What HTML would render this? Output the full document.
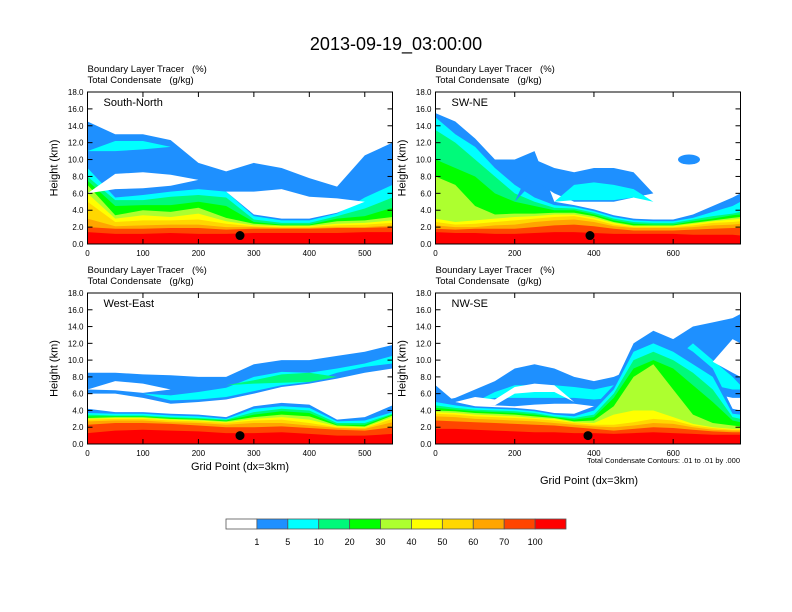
<!DOCTYPE html>
<html><head><meta charset="utf-8"><style>
body{margin:0;background:#fff;}
svg{display:block;font-family:"Liberation Sans",sans-serif;}
</style></head><body>
<svg id="fig" width="792" height="612" viewBox="0 0 792 612" xmlns="http://www.w3.org/2000/svg">
<rect width="792" height="612" fill="#fff"/>
<text x="396" y="50" font-size="18" text-anchor="middle">2013-09-19_03:00:00</text>
</svg>
<script>
const colors=["#ffffff","#1e90ff","#00ffff","#00fa7a","#00ff00","#adff2f","#ffff00","#ffd700","#ffa500","#ff4500","#ff0000"];
const colorLabels=["1","5","10","20","30","40","50","60","70","100"];
const yTicks=[0,2,4,6,8,10,12,14,16,18];

// ---- Panel: South-North
const snX=[0,50,100,150,200,250,300,350,400,450,500,550];
const snStack=[
 [14.5,13,13,12.3,9.6,8.6,9.6,9,7.8,6.8,10.5,12],
 [9,5.5,5.8,6.2,6.5,6.2,3.3,2.8,2.8,3.6,5.5,7],
 [8,5.2,5.2,5.6,5.8,5.5,2.9,2.5,2.5,3.3,4.2,5.5],
 [7.5,4.5,4.6,4.6,5.0,4.5,2.6,2.3,2.3,3.0,3.3,4.3],
 [7,3.4,4.0,3.8,4.3,3.1,2.4,2.2,2.2,2.7,2.8,3.2],
 [6,3.0,3.4,3.2,3.6,2.7,2.2,2.1,2.1,2.4,2.5,2.8],
 [5,2.6,2.8,2.8,2.9,2.4,2.1,2.0,2.0,2.2,2.3,2.5],
 [3,2.1,2.2,2.3,2.3,2.0,2.0,1.9,1.9,2.0,2.0,2.2],
 [2.0,1.8,1.8,1.9,1.9,1.7,1.8,1.8,1.8,1.9,1.9,2.0],
 [1.4,1.2,1.2,1.3,1.2,1.2,1.3,1.3,1.3,1.3,1.4,1.4]];
const snHoleBot=[6,6.5,6.6,6.9,7.6,6.2,3.5,3.0,3.0,3.7,5,6];
const snHoleTop=[6,8.3,8.5,8.2,7.6,6.2,6.2,6.5,5.6,5.4,5,6];
const snCyanBot=[11,11,11.2,11.5,11.5,8,8,8,8,8,8,8];
const snCyanTop=[11,12.2,12.2,11.5,11.5,8,8,8,8,8,8,8];

// ---- Panel: SW-NE
const swX=[0,50,100,150,200,250,300,350,400,450,500,550,600,650,700,750,770];
const swStack=[
 [15.5,14.5,12.5,10,10,11,5,4.6,4.1,3.4,3.0,2.9,2.9,3.5,4.5,5.5,6],
 [15,13,11.5,9,7,5.5,4.6,4.4,3.9,3.2,2.8,2.7,2.7,3.1,3.8,4.5,5],
 [13.5,12,10,8,6,5,4.3,4.2,3.7,3.0,2.6,2.5,2.5,2.9,3.3,3.6,3.8],
 [10,9,8,6,5,4.5,4,4,3.5,2.8,2.4,2.3,2.3,2.7,3.0,3.4,3.5],
 [8,7,4.5,3.5,3.6,3.6,3.7,3.7,3.3,2.6,2.2,2.2,2.2,2.5,2.8,3.1,3.2],
 [3.0,2.6,2.8,3.0,3.2,3.3,3.5,3.5,3.1,2.5,2.1,2.1,2.1,2.4,2.7,2.9,3.0],
 [2.6,2.3,2.4,2.6,2.8,3.0,3.2,3.3,2.9,2.3,2.0,2.0,2.0,2.2,2.5,2.6,2.7],
 [2.2,2.0,2.0,2.2,2.3,2.6,2.8,2.9,2.6,2.1,1.9,1.9,1.9,2.0,2.2,2.3,2.4],
 [1.8,1.7,1.8,1.8,1.8,2.0,2.2,2.3,2.1,1.8,1.6,1.6,1.6,1.7,1.8,1.9,1.9],
 [1.4,1.3,1.3,1.2,1.2,1.3,1.4,1.4,1.3,1.2,1.2,1.2,1.2,1.1,1.1,1.1,1.0]];
const swBlueBot=[5,5,5,5,5,7.5,6,5,5,5,5.5,6,6,6,6,6,6];
const swBlueTop=[5,5,5,5,5,10,9,8.5,9,9,8.5,6,6,6,6,6,6];
const swCyanBot=[5,5,5,5,5,5,5,5.2,5.2,5.2,5.5,5,5,5,5,5,5];
const swCyanTop=[5,5,5,5,5,5,5,7,7.3,7,6.5,5,5,5,5,5,5];

// ---- Panel: West-East
const weX=[0,50,100,150,200,250,300,350,400,450,500,550];
const weStack=[
 [4.2,3.8,3.8,3.6,3.5,3.2,4.5,4.9,4.7,2.9,3.2,4.6],
 [3.7,3.6,3.6,3.4,3.3,3.0,4.2,4.5,4.3,2.7,2.8,3.8],
 [3.5,3.4,3.4,3.2,3.1,2.9,3.8,4.2,4.0,2.5,2.5,3.6],
 [3.3,3.3,3.3,3.1,3.0,2.8,3.5,3.9,3.7,2.3,2.3,3.5],
 [3.1,3.2,3.2,3.0,2.9,2.7,3.2,3.5,3.3,2.2,2.1,3.4],
 [3.0,3.1,3.1,2.9,2.8,2.6,3.0,3.2,2.9,2.1,2.0,3.2],
 [2.9,3.0,3.0,2.8,2.7,2.5,2.8,2.9,2.5,2.0,1.9,3.0],
 [2.7,2.8,2.8,2.6,2.5,2.3,2.5,2.5,2.2,1.9,1.8,2.6],
 [2.3,2.5,2.5,2.4,2.2,2.0,2.0,2.1,1.9,1.7,1.6,2.0],
 [1.3,1.6,1.7,1.6,1.5,1.3,1.3,1.4,1.2,1.0,1.0,1.2]];
const weBlueBot=[6,6,5.5,4.8,5,5.3,6,6.8,7.2,7.8,8.5,9];
const weBlueTop=[8.5,8.5,8.3,8.2,8,8,9.5,10,10,10.5,11,11.8];
const weCyanBot=[6,6,6,5.2,5.3,5.6,6.3,7,7.4,8.5,9.2,9.6];
const weCyanTop=[6,6,6,5.8,6.2,6.7,8,8.6,8.5,9,9.6,10.5];
const weGreenBot=[7,7,7,7,7,7,7.2,7.3,7.4,8,8,8];
const weGreenTop=[7,7,7,7,7,7,7.6,8.3,8.5,8,8,8];
const weHoleBot=[6.5,6.4,6.1,6.5,6.5,6.5,6.5,6.5,6.5,6.5,6.5,6.5];
const weHoleTop=[6.5,7.5,7.2,6.5,6.5,6.5,6.5,6.5,6.5,6.5,6.5,6.5];

// ---- Panel: NW-SE
const nwX=[0,50,100,150,200,250,300,350,400,450,500,550,600,650,700,750,770];
const nwStack=[
 [7,5,4.5,4.4,4.3,4.1,3.7,3.6,4.5,7,12,13.5,12.5,11,9,4.2,4],
 [5,4.6,4.3,4.2,4.1,3.9,3.5,3.3,4,6.5,11,12,11,9.5,8,3.6,3.5],
 [4.6,4.3,4.1,4.0,3.9,3.7,3.3,3.1,3.5,6,10,11,10,8.5,6.5,3.2,3],
 [4.3,4.1,3.9,3.8,3.7,3.5,3.2,2.9,3.2,5.5,9,10,9,7,5,2.8,2.6],
 [4.0,3.9,3.7,3.6,3.5,3.3,3.1,2.7,2.8,4.5,8,9.5,6.5,3.5,2.5,2.2,2.1],
 [3.8,3.7,3.5,3.4,3.3,3.1,3.0,2.6,2.5,3.5,4,4,3.2,2.4,2.0,1.8,1.8],
 [3.6,3.5,3.3,3.2,3.1,3.0,2.8,2.5,2.3,2.3,2.6,3.0,2.8,2.2,1.9,1.7,1.7],
 [3.3,3.2,3.0,2.9,2.8,2.7,2.5,2.3,2.1,2.0,2.2,2.5,2.4,2.0,1.7,1.6,1.6],
 [2.8,2.7,2.6,2.5,2.4,2.3,2.2,2.0,1.8,1.6,1.8,2.0,1.9,1.7,1.5,1.4,1.4],
 [1.8,1.8,1.7,1.6,1.5,1.4,1.4,1.3,1.3,1.2,1.3,1.4,1.3,1.2,1.1,1.1,1.1]];
const nwBlueBot=[5,5,4.8,4.6,4.5,4.7,4.8,4.8,4.5,5,6,7,8,8,6,5.5,5.5];
const nwBlueTop=[5,5.5,6.5,7.5,9,9.5,9,8,7.5,8,9,11,12.5,14,14.5,15,15.5];
const nwCyanBot=[5,5,5,5.5,5.5,5.5,5.5,5.5,5.3,5.5,6,7,8,8.5,7,6.5,6.5];
const nwCyanTop=[5,5,5,6.2,7,7,7,6.8,6.5,7,8,9,10,12,10,8,7];
const nwHoleBot=[5,5,4.7,4.6,6,6.2,6.2,5,5,5,5,5,5,9.8,9.8,8.5,8];
const nwHoleTop=[5,5,5.6,5.3,6.8,7.2,7,5,5,5,5,5,5,9.8,9.8,12.5,12];

const dots=[275,390,275,385];

const svg=document.getElementById('fig');
const NS="http://www.w3.org/2000/svg";
function mk(tag,attrs,parent){const e=document.createElementNS(NS,tag);for(const k in attrs)e.setAttribute(k,attrs[k]);(parent||svg).appendChild(e);return e;}

function panel(cfg){
  const {x0,y0,w,h,xmax,xs,stack,pre,post,label,xticks,dot,name}=cfg;
  const g=mk('g',{});
  
  
  const sx=v=>x0+w*v/xmax, sy=v=>y0+h*(1-v/18);
  const clipId='clip-'+name;
  const cp=mk('clipPath',{id:clipId},g);mk('rect',{x:x0,y:y0,width:w,height:h},cp);
  const plot=mk('g',{'clip-path':'url(#'+clipId+')'},g);
  function band(bot,top,ci,nm){
    let pts=xs.map((x,i)=>sx(x)+','+sy(Math.max(top[i],bot[i])));
    for(let i=xs.length-1;i>=0;i--)pts.push(sx(xs[i])+','+sy(bot[i]));
    const p=mk('polygon',{points:pts.join(' '),fill:colors[ci]},plot);
    
    
  }
  pre.forEach(b=>band(b.bot,b.top,b.ci,b.nm));
  const zero=xs.map(()=>0);
  stack.forEach((tops,k)=>band(zero,tops,k+1,'tracer-level-'+(k+1)));
  post.forEach(b=>band(b.bot,b.top,b.ci,b.nm));
  const d=mk('circle',{cx:sx(dot),cy:sy(1.0),r:4.5,fill:'#000'},g);
  
  
  const fr=mk('rect',{x:x0,y:y0,width:w,height:h,fill:'none',stroke:'#000','stroke-width':1},g);
  
  
  yTicks.forEach(v=>{
    const y=sy(v);
    mk('line',{x1:x0,x2:x0+5,y1:y,y2:y,stroke:'#000'},g);
    mk('line',{x1:x0+w,x2:x0+w-5,y1:y,y2:y,stroke:'#000'},g);
    const t=mk('text',{x:x0-4,y:y+3,'font-size':8,'text-anchor':'end'},g);
    t.textContent=v.toFixed(1);
    
    
  });
  xticks.forEach(v=>{
    const x=sx(v);
    mk('line',{x1:x,x2:x,y1:y0+h,y2:y0+h-5,stroke:'#000'},g);
    mk('line',{x1:x,x2:x,y1:y0,y2:y0+5,stroke:'#000'},g);
    const t=mk('text',{x:x,y:y0+h+12,'font-size':8,'text-anchor':'middle'},g);
    t.textContent=v;
    
    
  });
  const yt=mk('text',{x:0,y:0,'font-size':11,'text-anchor':'middle',transform:'translate('+(x0-30)+','+(y0+h/2)+') rotate(-90)'},g);
  yt.textContent='Height (km)';
  
  
  const h1=mk('text',{x:x0,y:y0-20,'font-size':9.5},g);h1.textContent='Boundary Layer Tracer\u00a0\u00a0\u00a0(%)';
  
  
  const h2=mk('text',{x:x0,y:y0-9,'font-size':9.5},g);h2.textContent='Total Condensate\u00a0\u00a0\u00a0(g/kg)';
  
  
  const lb=mk('text',{x:x0+16,y:y0+14,'font-size':11},g);lb.textContent=label;
  
  
}
const xt550=[0,100,200,300,400,500], xt770=[0,200,400,600];
panel({name:'south-north',x0:87.5,y0:92,w:305,h:152,xmax:550,xs:snX,stack:snStack,label:'South-North',xticks:xt550,dot:dots[0],
  pre:[],
  post:[{bot:snHoleBot,top:snHoleTop,ci:0,nm:'clear-gap'},{bot:snCyanBot,top:snCyanTop,ci:2,nm:'cloud-core'}]});
panel({name:'sw-ne',x0:435.5,y0:92,w:305,h:152,xmax:770,xs:swX,stack:swStack,label:'SW-NE',xticks:xt770,dot:dots[1],
  pre:[],
  post:[{bot:swBlueBot,top:swBlueTop,ci:1,nm:'cloud-band'},{bot:swCyanBot,top:swCyanTop,ci:2,nm:'cloud-core'}]});
panel({name:'west-east',x0:87.5,y0:293,w:305,h:151,xmax:550,xs:weX,stack:weStack,label:'West-East',xticks:xt550,dot:dots[2],
  pre:[],
  post:[{bot:weBlueBot,top:weBlueTop,ci:1,nm:'cloud-band'},{bot:weCyanBot,top:weCyanTop,ci:2,nm:'cloud-core'},{bot:weGreenBot,top:weGreenTop,ci:3,nm:'cloud-core-inner'},{bot:weHoleBot,top:weHoleTop,ci:0,nm:'clear-gap'}]});
panel({name:'nw-se',x0:435.5,y0:293,w:305,h:151,xmax:770,xs:nwX,stack:nwStack,label:'NW-SE',xticks:xt770,dot:dots[3],
  pre:[{bot:nwBlueBot,top:nwBlueTop,ci:1,nm:'cloud-band'},{bot:nwCyanBot,top:nwCyanTop,ci:2,nm:'cloud-core'}],
  post:[{bot:nwHoleBot,top:nwHoleTop,ci:0,nm:'clear-gap'}]});

(function(){const c=mk('ellipse',{cx:435.5+305*640/770,cy:92+152*(1-10/18),rx:11,ry:5,fill:colors[1]});

})();

function txt(x,y,s,size,anchor,name){const t=mk('text',{x:x,y:y,'font-size':size,'text-anchor':anchor});t.textContent=s;

return t;}
txt(240,470,'Grid Point (dx=3km)',11,'middle','x-axis-title');
txt(589,484,'Grid Point (dx=3km)',11,'middle','x-axis-title');
txt(740,463,'Total Condensate Contours: .01 to .01 by .000',7.5,'end','contour-note');

const cb0=226, cbW=340/11;
colors.forEach((c,i)=>{
  const r=mk('rect',{x:cb0+i*cbW,y:519,width:cbW,height:10,fill:c,stroke:'#555','stroke-width':0.8});
  
  
});
colorLabels.forEach((s,i)=>txt(cb0+(i+1)*cbW,545,s,9,'middle','colorbar-label'));
</script>
</body></html>
